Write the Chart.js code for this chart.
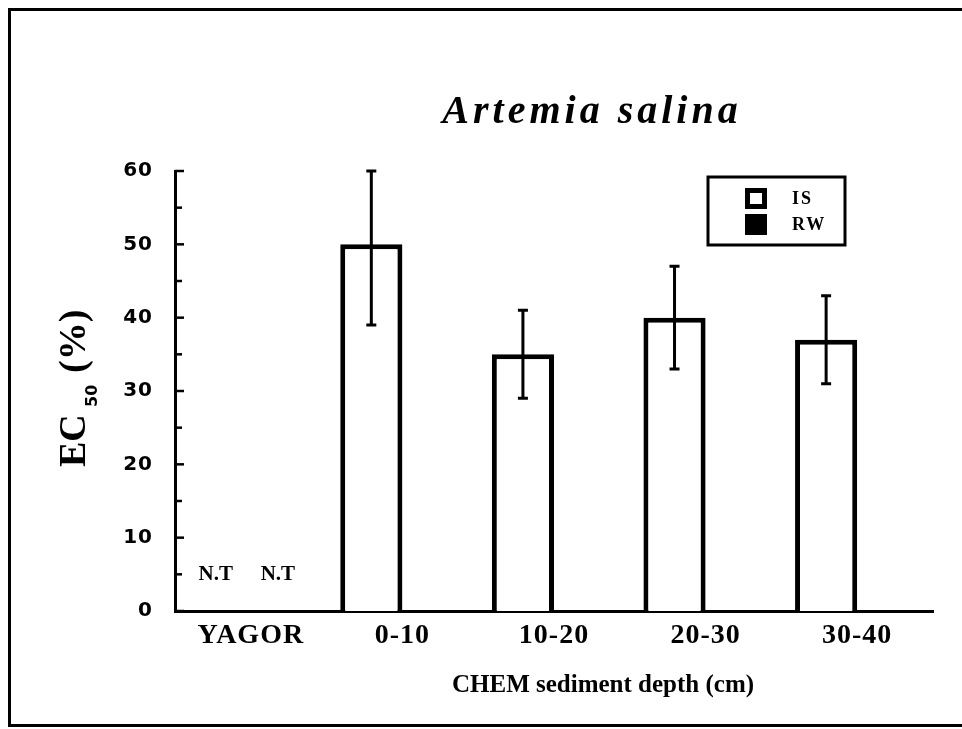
<!DOCTYPE html>
<html>
<head>
<meta charset="utf-8">
<title>Artemia salina EC50</title>
<script src="https://cdn.jsdelivr.net/npm/chart.js@4.4.1/dist/chart.umd.min.js"></script>
<style>
  html, body { margin: 0; padding: 0; background: #fff; }
  #wrap { width: 962px; height: 729px; position: relative; }
</style>
</head>
<body>
<div id="wrap"><canvas id="myChart"></canvas></div>
<script>
// data
const depths = ["YAGOR", "0-10", "10-20", "20-30", "30-40"];
const isValues = [null, 50, 35, 40, 37];
const isLow = [null, 39, 29, 33, 31];
const isHigh = [null, 60, 41, 47, 43];
const rwValues = [null, null, null, null, null];
const isNotes = ["N.T", null, null, null, null];
const rwNotes = ["N.T", null, null, null, null];
const yTicks = [0, 10, 20, 30, 40, 50, 60];

const serif = '"Liberation Serif", "Times New Roman", serif';

// outer frame, plot title, axis titles
const decorations = {
  id: 'decorations',
  beforeDraw(chart) {
    const ctx = chart.ctx;
    ctx.save();
    ctx.strokeStyle = '#000';
    ctx.lineWidth = 3;
    ctx.beginPath();
    ctx.moveTo(975, 9.5);
    ctx.lineTo(9.5, 9.5);
    ctx.lineTo(9.5, 725.5);
    ctx.lineTo(975, 725.5);
    ctx.stroke();
    ctx.restore();
    // spacing used by the tick labels
    ctx.letterSpacing = '1px';
  },
  afterDraw(chart) {
    const ctx = chart.ctx;
    ctx.save();
    ctx.fillStyle = '#000';

    // title
    ctx.letterSpacing = '4px';
    ctx.font = 'italic bold 40px ' + serif;
    ctx.textAlign = 'center';
    ctx.textBaseline = 'alphabetic';
    ctx.fillText('Artemia salina', 592, 123);

    // x title
    ctx.letterSpacing = '0px';
    ctx.font = 'bold 25px ' + serif;
    ctx.textAlign = 'left';
    ctx.fillText('CHEM sediment depth (cm)', 452, 692);

    // y title with subscript
    ctx.save();
    ctx.translate(85, 467);
    ctx.rotate(-Math.PI / 2);
    ctx.textAlign = 'left';
    ctx.font = 'bold 38px ' + serif;
    ctx.fillText('EC', 0, 0);
    ctx.font = 'bold 16px "DejaVu Sans", sans-serif';
    ctx.fillText('50', 60, 12);
    ctx.font = 'bold 38px ' + serif;
    ctx.fillText('(%)', 94, 0);
    ctx.restore();

    ctx.restore();
  }
};

// inward tick marks on the y axis
const innerTicks = {
  id: 'innerTicks',
  afterDraw(chart) {
    const y = chart.scales.y;
    const ctx = chart.ctx;
    const left = chart.chartArea.left;
    ctx.save();
    ctx.strokeStyle = '#000';
    ctx.lineWidth = 2.5;
    y.ticks.forEach(t => {
      const py = y.getPixelForValue(t.value);
      const len = t.value % 10 === 0 ? 9 : 7;
      ctx.beginPath();
      ctx.moveTo(left, py);
      ctx.lineTo(left + len, py);
      ctx.stroke();
    });
    ctx.restore();
  }
};

// error bars and N.T notes
const errorBars = {
  id: 'errorBars',
  afterDatasetsDraw(chart) {
    const ctx = chart.ctx;
    const y = chart.scales.y;
    const x = chart.scales.x;
    const meta0 = chart.getDatasetMeta(0);
    const meta1 = chart.getDatasetMeta(1);
    ctx.save();
    ctx.strokeStyle = '#000';
    ctx.lineWidth = 3;
    isHigh.forEach((hi, i) => {
      if (hi == null) return;
      const px = meta0.data[i].x;
      const yHi = y.getPixelForValue(hi);
      const yLo = y.getPixelForValue(isLow[i]);
      ctx.beginPath();
      ctx.moveTo(px, yHi);
      ctx.lineTo(px, yLo);
      ctx.moveTo(px - 5, yHi);
      ctx.lineTo(px + 5, yHi);
      ctx.moveTo(px - 5, yLo);
      ctx.lineTo(px + 5, yLo);
      ctx.stroke();
    });

    ctx.fillStyle = '#000';
    ctx.letterSpacing = '0px';
    ctx.font = 'bold 21px ' + serif;
    ctx.textAlign = 'center';
    ctx.textBaseline = 'middle';
    const drawNotes = (notes, meta, shift) => {
      notes.forEach((n, i) => {
        if (!n) return;
        let px = meta.data[i] ? meta.data[i].x : NaN;
        if (!isFinite(px)) px = x.getPixelForValue(i) + shift;
        ctx.fillText(n, px - 4, y.getPixelForValue(4.9));
      });
    };
    drawNotes(isNotes, meta0, -31);
    drawNotes(rwNotes, meta1, 31);
    ctx.restore();
  }
};

// boxed legend in the upper right
const boxLegend = {
  id: 'boxLegend',
  afterDraw(chart) {
    const ctx = chart.ctx;
    const sets = chart.data.datasets;
    ctx.save();
    ctx.strokeStyle = '#000';
    ctx.lineWidth = 3;
    ctx.strokeRect(708, 177, 137, 68);
    ctx.letterSpacing = '2px';
    ctx.font = 'bold 18px ' + serif;
    ctx.textAlign = 'left';
    ctx.textBaseline = 'middle';
    sets.forEach((ds, i) => {
      const top = 188 + i * 26;
      ctx.fillStyle = ds.backgroundColor;
      ctx.fillRect(745, top, 22, 21);
      ctx.lineWidth = 5;
      ctx.strokeStyle = '#000';
      ctx.strokeRect(747.5, top + 2.5, 17, 16);
      ctx.fillStyle = '#000';
      ctx.fillText(ds.label, 792, top + 11);
    });
    ctx.restore();
  }
};

new Chart(document.getElementById('myChart'), {
  type: 'bar',
  data: {
    labels: depths,
    datasets: [{
      label: 'IS',
      data: isValues,
      backgroundColor: '#ffffff',
      borderColor: '#000000',
      borderWidth: 5
    }, {
      label: 'RW',
      data: rwValues,
      backgroundColor: '#000000',
      borderColor: '#000000',
      borderWidth: 5
    }]
  },
  options: {
    responsive: true,
    maintainAspectRatio: false,
    animation: false,
    events: [],
    layout: { padding: { left: 0, top: 171, right: 29, bottom: 0 } },
    datasets: {
      bar: { categoryPercentage: 0.82, barPercentage: 1.0 }
    },
    plugins: {
      legend: { display: false },
      title: { display: false },
      tooltip: { enabled: false }
    },
    scales: {
      x: {
        afterFit: s => { s.height = 118; },
        grid: { display: false, drawTicks: false },
        border: { display: true, width: 3, color: '#000' },
        ticks: {
          color: '#000',
          padding: 8,
          maxRotation: 0,
          font: { family: serif, size: 28, weight: 'bold' }
        }
      },
      y: {
        min: 0,
        max: 60,
        afterFit: s => { s.width = 175; },
        afterBuildTicks: s => {
          const t = [];
          for (let v = 0; v <= 60; v += 5) t.push({ value: v });
          s.ticks = t;
        },
        grid: { display: false, drawTicks: false },
        border: { display: true, width: 3, color: '#000' },
        ticks: {
          color: '#000',
          padding: 22,
          autoSkip: false,
          font: { family: '"DejaVu Sans", sans-serif', size: 20, weight: 'bold' },
          callback: v => (yTicks.includes(v) ? v : '')
        }
      }
    }
  },
  plugins: [decorations, innerTicks, errorBars, boxLegend]
});
</script>
</body>
</html>
